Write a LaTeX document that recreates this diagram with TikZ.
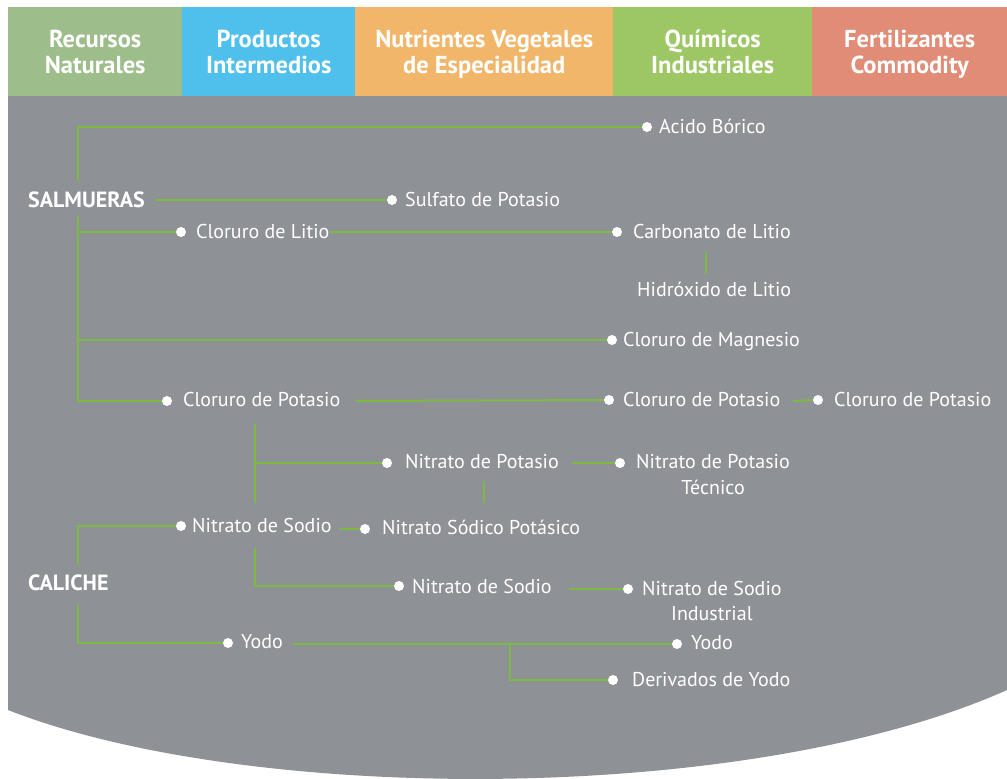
\documentclass[tikz,border=0pt]{standalone}
\usepackage{fontspec}
\setmainfont{PT Sans}
\definecolor{hgreen}{HTML}{9DBD8A}
\definecolor{hblue}{HTML}{4FBFEC}
\definecolor{horange}{HTML}{F2B66A}
\definecolor{hlgreen}{HTML}{9DC764}
\definecolor{hsalmon}{HTML}{E08C76}
\definecolor{bodygray}{HTML}{8E9296}
\definecolor{linegreen}{HTML}{7CBA45}
\tikzset{
  hdr/.style={fill=#1, anchor=north west, inner sep=0pt, minimum height=89pt},
  htxt/.style={anchor=base, inner sep=0pt, text=white, align=center,
    font=\bfseries\fontsize{24.5}{25.5}\selectfont},
  lbl/.style={anchor=base west, inner sep=0pt, text=white, font=\fontsize{20}{26}\selectfont},
  blbl/.style={lbl, font=\bfseries\fontsize{22}{26}\selectfont},
  dot/.style={circle, fill=white, inner sep=0pt, minimum size=10pt},
  gl/.style={draw=linegreen, line width=2pt},
}
\begin{document}
\begin{tikzpicture}[x=1pt, y=-1pt]
\useasboundingbox (0,0) rectangle (1007,779);
\fill[white] (0,0) rectangle (1007,779);
% body
\fill[bodygray] (8,96) -- (1007,96) -- (1007,690) .. controls (750,805) and (250,805) .. (8,710) -- cycle;
% headers
\node[hdr=hgreen, minimum width=174pt] (h1) at (8,7) {};
\node[hdr=hblue, minimum width=173pt] (h2) at (182,7) {};
\node[hdr=horange, minimum width=258pt] (h3) at (355,7) {};
\node[hdr=hlgreen, minimum width=199pt] (h4) at (613,7) {};
\node[hdr=hsalmon, minimum width=195pt] (h5) at (812,7) {};
\node[htxt] (h1t) at (h1.center |- 0,73) {Recursos\\Naturales};
\node[htxt] (h2t) at (h2.center |- 0,73) {Productos\\Intermedios};
\node[htxt] (h3t) at (h3.center |- 0,73) {Nutrientes Vegetales\\de Especialidad};
\node[htxt] (h4t) at (h4.center |- 0,73) {Químicos\\Industriales};
\node[htxt] (h5t) at (h5.center |- 0,73) {Fertilizantes\\Commodity};

% junction coordinates
\coordinate (s1a) at (78,181);
\coordinate (s1b) at (78,216);
\coordinate (salR) at (155,200);
\coordinate (clR) at (330,232);
\coordinate (hlA) at (706,252);
\coordinate (hlB) at (706,274);
\coordinate (kp1R) at (356,401);
\coordinate (kp2R) at (793,401);
\coordinate (vA) at (255,424);
\coordinate (vB) at (255,503);
\coordinate (npR) at (572,463);
\coordinate (npA) at (484,481);
\coordinate (npB) at (484,503);
\coordinate (c1a) at (78,565);
\coordinate (c1b) at (78,605);
\coordinate (ns1R) at (339,529);
\coordinate (vC) at (255,548);
\coordinate (ns2R) at (569,589);
\coordinate (y1R) at (293,644);
\coordinate (yJ) at (510,644);

% dot positions (nodes drawn after connectors)
\coordinate (pAB) at (647,127);
\coordinate (pSP) at (392,200);
\coordinate (pCL) at (181,232);
\coordinate (pCA) at (617,232);
\coordinate (pCM) at (612,340);
\coordinate (pKP1) at (167,401);
\coordinate (pKP2) at (609,400);
\coordinate (pKP3) at (818,400);
\coordinate (pNP) at (387,463);
\coordinate (pNPT) at (620,463);
\coordinate (pNS1) at (181,526);
\coordinate (pNSP) at (365,529);
\coordinate (pNS2) at (399,586);
\coordinate (pNSI) at (628,589);
\coordinate (pY1) at (228,643);
\coordinate (pY2) at (677,644);
\coordinate (pDY) at (613,680);

% connectors
\draw[gl] (s1a) |- (pAB);
\draw[gl] (s1b) |- (pKP1);
\draw[gl] (pCL -| s1b) -- (pCL);
\draw[gl] (pCM -| s1b) -- (pCM);
\draw[gl] (salR) -- (pSP);
\draw[gl] (clR) -- (pCA);
\draw[gl] (hlA) -- (hlB);
\draw[gl] (kp1R) -- (pKP2);
\draw[gl] (kp2R) -- (pKP3);
\draw[gl] (vA) -- (vB);
\draw[gl] (pNP -| vA) -- (pNP);
\draw[gl] (npR) -- (pNPT);
\draw[gl] (npA) -- (npB);
\draw[gl] (c1a) |- (pNS1);
\draw[gl] (c1b) |- (pY1);
\draw[gl] (ns1R) -- (pNSP);
\draw[gl] (vC) |- (pNS2);
\draw[gl] (ns2R) -- (pNSI);
\draw[gl] (y1R) -- (pY2);
\draw[gl] (yJ) |- (pDY);

% dots
\foreach \d in {AB,SP,CL,CA,CM,KP1,KP2,KP3,NP,NPT,NS1,NSP,NS2,NSI,Y1,Y2,DY}
  \node[dot] (d\d) at (p\d) {};

% labels
\node[lbl] (tAB) at (659,133) {Acido Bórico};
\node[blbl] (tSAL) at (28,207) {SALMUERAS};
\node[lbl] (tSP) at (405,206) {Sulfato de Potasio};
\node[lbl] (tCL) at (196,238) {Cloruro de Litio};
\node[lbl] (tCA) at (633,238) {Carbonato de Litio};
\node[lbl] (tHL) at (637,296) {Hidróxido de Litio};
\node[lbl] (tCM) at (623,346) {Cloruro de Magnesio};
\node[lbl] (tKP1) at (183,406) {Cloruro de Potasio};
\node[lbl] (tKP2) at (623,406) {Cloruro de Potasio};
\node[lbl] (tKP3) at (834,406) {Cloruro de Potasio};
\node[lbl] (tNP) at (405,468) {Nitrato de Potasio};
\node[lbl] (tNPT) at (636,468) {Nitrato de Potasio};
\node[lbl, anchor=base] (tNPT2) at ([yshift=-26pt]tNPT.base) {Técnico};
\node[lbl] (tNS1) at (192,532) {Nitrato de Sodio};
\node[lbl] (tNSP) at (382,534) {Nitrato Sódico Potásico};
\node[blbl] (tCAL) at (28,590) {CALICHE};
\node[lbl] (tNS2) at (412,593) {Nitrato de Sodio};
\node[lbl] (tNSI) at (642,595) {Nitrato de Sodio};
\node[lbl, anchor=base] (tNSI2) at ([yshift=-25pt]tNSI.base) {Industrial};
\node[lbl] (tY1) at (241,648) {Yodo};
\node[lbl] (tY2) at (691,649) {Yodo};
\node[lbl] (tDY) at (632,686) {Derivados de Yodo};
\end{tikzpicture}
\end{document}
